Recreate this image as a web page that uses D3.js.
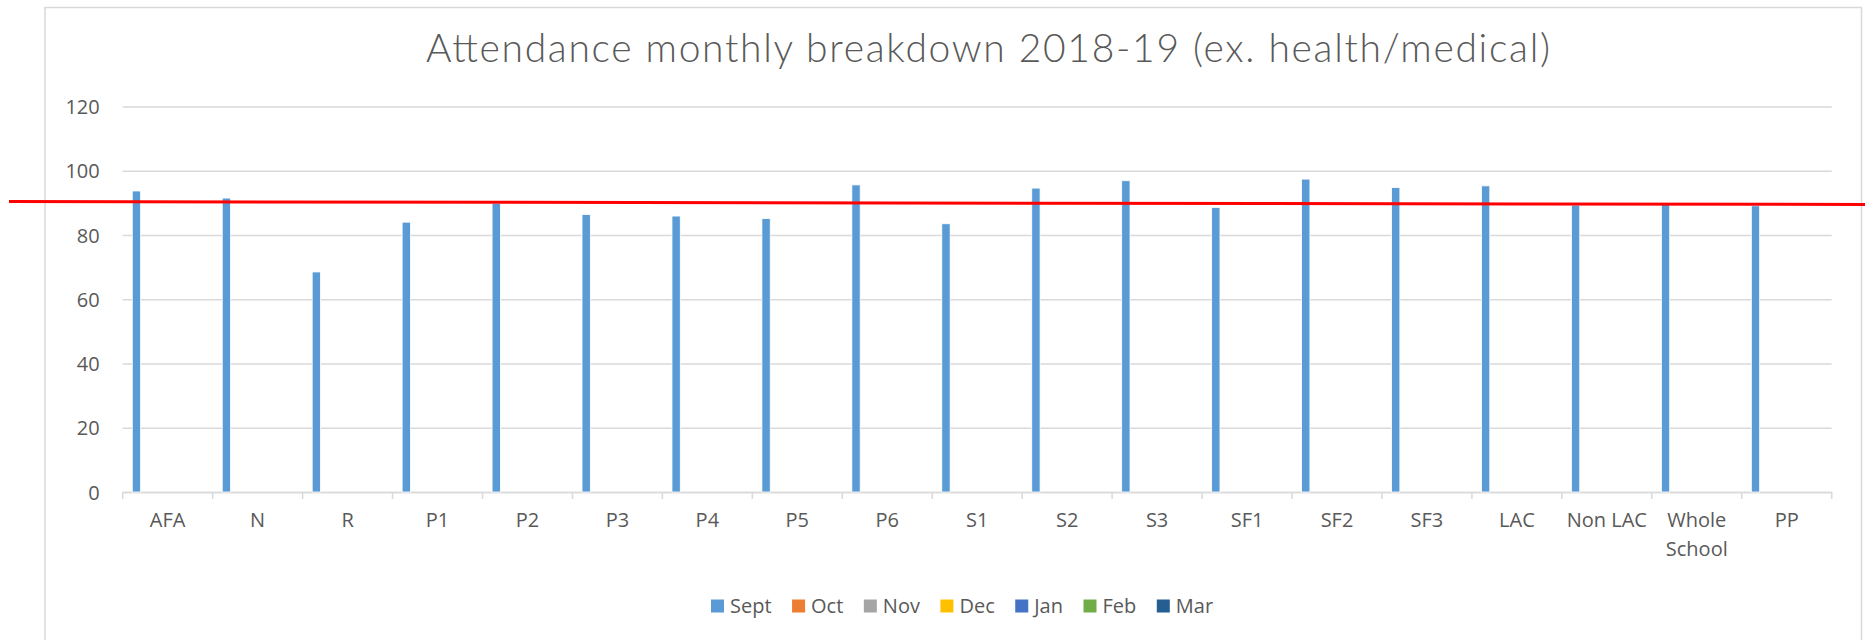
<!DOCTYPE html>
<html>
<head>
<meta charset="utf-8">
<script src="https://cdn.jsdelivr.net/npm/d3@7"></script>
<style>
  body { margin: 0; background: #fff; }
  svg { display: block; }
  text { font-family: "Open Sans", "Liberation Sans", sans-serif; fill: #595959; }
</style>
</head>
<body>
<svg id="chart" width="1865" height="640"></svg>
<script>
// categories along x axis
let categories = ["AFA", "N", "R", "P1", "P2", "P3", "P4", "P5", "P6", "S1", "S2", "S3",
  "SF1", "SF2", "SF3", "LAC", "Non LAC", "Whole School", "PP"];

// months (series) + legend colours
let months = ["Sept", "Oct", "Nov", "Dec", "Jan", "Feb", "Mar"];
let monthColors = ["#5b9bd5", "#ed7d31", "#a5a5a5", "#ffc000", "#4472c4", "#70ad47", "#255e91"];

// only September has been filled in so far
let septValues = [93.7, 91.5, 68.5, 84, 89.9, 86.4, 85.9, 85.1, 95.6, 83.5, 94.6, 96.9,
  88.6, 97.4, 94.8, 95.3, 89.3, 89.5, 89.1];
let octValues = [];
let novValues = [];
let decValues = [];
let janValues = [];
let febValues = [];
let marValues = [];

let yTicks = [0, 20, 40, 60, 80, 100, 120];

// red target line drawn across the chart (value at left end, right end)
let targetLine = [90.4, 89.5];

let chartTitle = "Attendance monthly breakdown 2018-19 (ex. health/medical)";

var drawChart = function() {
  let svg = d3.select("#chart");
  let width = 1865;

  let margin = { top: 106.5, left: 122.7, right: 33.3, bottom: 148 };
  let plotWidth = width - margin.left - margin.right;
  let plotHeight = 492 - margin.top;

  // outer chart frame
  svg.append("rect")
    .attr("x", 45).attr("y", 7.5)
    .attr("width", 1861.5 - 45).attr("height", 700)
    .attr("fill", "none")
    .attr("stroke", "#d9d9d9")
    .attr("stroke-width", 1.5);

  svg.append("text")
    .attr("x", 988)
    .attr("y", 62)
    .attr("text-anchor", "middle")
    .attr("textLength", 1124)
    .style("font-family", "Lato, 'Open Sans', sans-serif")
    .style("font-weight", 300)
    .style("font-size", "39px")
    .text(chartTitle);

  let x0 = d3.scaleBand()
    .domain(categories)
    .range([0, plotWidth]);

  let x1 = d3.scaleBand()
    .domain(months)
    .range([0, x0.bandwidth()])
    .paddingInner(0.2)
    .paddingOuter(0.92);

  let y = d3.scaleLinear()
    .domain([0, 120])
    .range([plotHeight, 0]);

  let plot = svg.append("g")
    .attr("transform", "translate(" + margin.left + "," + margin.top + ")");

  // gridlines + y labels
  let yAxis = d3.axisLeft(y)
    .tickValues(yTicks)
    .tickSize(-plotWidth)
    .tickPadding(23);
  let yGroup = plot.append("g").attr("class", "y-axis").call(yAxis);
  yGroup.select(".domain").remove();
  yGroup.selectAll(".tick line").attr("stroke", "#d9d9d9").attr("stroke-width", 1.5);
  yGroup.selectAll(".tick text")
    .style("font-size", "20px")
    .attr("fill", "#595959")
    .attr("dy", "0.35em");

  // x axis: labels centred, tick marks at category boundaries
  let xAxis = d3.axisBottom(x0).tickSize(0).tickPadding(14);
  let xGroup = plot.append("g")
    .attr("transform", "translate(0," + plotHeight + ")")
    .call(xAxis);
  xGroup.select(".domain").attr("stroke", "#d9d9d9").attr("stroke-width", 1.5);
  xGroup.selectAll(".tick text")
    .style("font-size", "20px")
    .attr("fill", "#595959")
    .each(function(d) {
      let words = d === "Whole School" ? ["Whole", "School"] : [d];
      let t = d3.select(this).text(null);
      words.forEach(function(w, i) {
        t.append("tspan").attr("x", 0).attr("dy", i === 0 ? "1.05em" : "1.45em").text(w);
      });
    });

  let bounds = categories.map(function(c) { return x0(c); }).concat([plotWidth]);
  xGroup.selectAll("line.boundary")
    .data(bounds)
    .enter().append("line")
    .attr("class", "boundary")
    .attr("x1", function(d) { return d; })
    .attr("x2", function(d) { return d; })
    .attr("y1", 0).attr("y2", 7)
    .attr("stroke", "#d9d9d9")
    .attr("stroke-width", 1.5);

  // bars
  let allSeries = [septValues, octValues, novValues, decValues, janValues, febValues, marValues];
  months.forEach(function(m, si) {
    let vals = allSeries[si];
    plot.append("g")
      .selectAll("rect")
      .data(vals.map(function(v, i) { return { cat: categories[i], value: v }; })
        .filter(function(d) { return d.value != null; }))
      .enter().append("rect")
      .attr("x", function(d) { return x0(d.cat) + x1(m); })
      .attr("y", function(d) { return y(d.value); })
      .attr("width", x1.bandwidth())
      .attr("height", function(d) { return plotHeight - y(d.value); })
      .attr("fill", monthColors[si])
      .attr("stroke", "#fff")
      .attr("stroke-width", 0.8);
  });

  // legend
  let legend = svg.append("g").attr("transform", "translate(0,606)");
  let lx = 711;
  months.forEach(function(m, i) {
    let item = legend.append("g").attr("transform", "translate(" + lx + ",0)");
    item.append("rect")
      .attr("x", 0).attr("y", -6.5)
      .attr("width", 13).attr("height", 13)
      .attr("fill", monthColors[i]);
    let txt = item.append("text")
      .attr("x", 19)
      .attr("dy", "0.36em")
      .style("font-size", "20px")
      .text(m);
    lx += 19 + txt.node().getComputedTextLength() + 20.5;
  });

  // red target line across the whole picture
  let xLine = d3.scaleLinear().domain([0, 1]).range([9, width]);
  svg.append("line")
    .attr("x1", xLine(0))
    .attr("x2", xLine(1))
    .attr("y1", margin.top + y(targetLine[0]))
    .attr("y2", margin.top + y(targetLine[1]))
    .attr("stroke", "#ff0000")
    .attr("stroke-width", 3);
}

drawChart();
</script>
</body>
</html>
